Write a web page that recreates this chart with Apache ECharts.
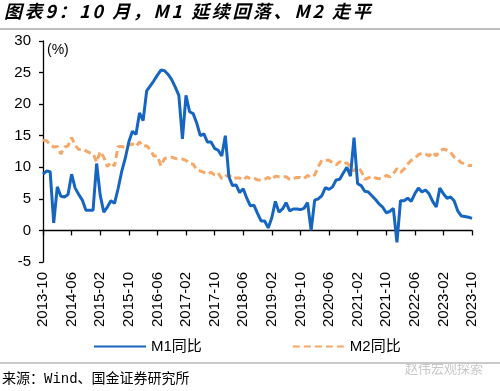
<!DOCTYPE html>
<html>
<head>
<meta charset="utf-8">
<script src="https://cdn.jsdelivr.net/npm/echarts@6/dist/echarts.min.js"></script>
<style>
html,body{margin:0;padding:0;background:#fff;}
#c{width:500px;height:391px;}
</style>
</head>
<body>
<div id="c"></div>
<script>
// Months 2013-10 .. 2023-10
var months = [];
for (var y = 2013; y <= 2023; y++) {
  for (var m = 1; m <= 12; m++) {
    if ((y === 2013 && m < 10) || (y === 2023 && m > 10)) continue;
    months.push(y + '-' + (m < 10 ? '0' + m : '' + m));
  }
}

var m1Values = [
  8.9, 9.4, 9.3,
  1.2, 6.9, 5.4, 5.3, 5.7, 8.9, 6.7, 5.7, 4.8, 3.2, 3.2, 3.2,
  10.6, 5.6, 2.9, 3.7, 4.7, 4.3, 6.6, 9.3, 11.4, 14.0, 15.7, 15.2,
  18.6, 17.4, 22.1, 22.9, 23.7, 24.6, 25.4, 25.3, 24.7, 23.9, 22.7, 21.4,
  14.5, 21.4, 18.8, 18.5, 17.0, 15.0, 15.3, 14.0, 14.0, 13.0, 12.7, 11.8,
  15.0, 8.5, 7.1, 7.2, 6.0, 6.6, 5.1, 3.9, 4.0, 2.7, 1.5, 1.5,
  0.4, 2.0, 4.6, 2.9, 3.4, 4.4, 3.1, 3.4, 3.4, 3.3, 3.5, 4.4,
  0.0, 4.8, 5.0, 5.5, 6.8, 6.5, 6.9, 8.0, 8.1, 9.1, 10.0, 8.6,
  14.7, 7.4, 7.1, 6.2, 6.1, 5.5, 4.9, 4.2, 3.7, 2.8, 3.0, 3.5,
  -1.9, 4.7, 4.7, 5.1, 4.6, 5.8, 6.7, 6.1, 6.4, 5.8, 4.6, 3.7,
  6.7, 5.8, 5.1, 5.3, 4.7, 3.1, 2.3, 2.2, 2.1, 1.9
];

var m2Values = [
  14.3, 14.2, 13.6,
  13.2, 13.3, 12.1, 13.2, 13.4, 14.7, 13.5, 12.8, 12.9, 12.6, 12.3, 12.2,
  10.8, 12.5, 11.6, 10.1, 10.8, 10.2, 13.3, 13.3, 13.1, 13.5, 13.7, 13.3,
  14.0, 13.3, 13.4, 12.8, 11.8, 11.8, 10.2, 11.4, 11.5, 11.6, 11.4, 11.3,
  11.3, 11.1, 10.6, 10.5, 9.6, 9.4, 9.2, 8.9, 9.2, 8.8, 9.1, 8.2,
  8.6, 8.8, 8.2, 8.3, 8.3, 8.0, 8.5, 8.2, 8.3, 8.0, 8.0, 8.1,
  8.4, 8.0, 8.6, 8.5, 8.5, 8.5, 8.1, 8.2, 8.4, 8.4, 8.2, 8.7,
  8.4, 8.8, 10.1, 11.1, 11.1, 11.1, 10.7, 10.4, 10.9, 10.5, 10.7, 10.1,
  9.4, 10.1, 9.4, 8.1, 8.3, 8.6, 8.3, 8.2, 8.3, 8.7, 8.5, 9.0,
  9.8, 9.2, 9.7, 10.5, 11.1, 11.4, 12.0, 12.2, 12.1, 11.8, 12.4, 11.8,
  12.6, 12.9, 12.7, 12.4, 11.6, 11.3, 10.7, 10.6, 10.3, 10.3
];

var seriesNames = ['M1同比', 'M2同比'];
var yTicks = { min: -5, max: 30, interval: 5 };
var titleText = '图表9：10 月，M1 延续回落、M2 走平';
var sourceText = '来源：Wind、国金证券研究所';
var unitText = '(%)';
var watermarkText = '赵伟宏观探索';

// title as rich text, one token per character (for letter spacing)
var titleRich = titleText.split('').map(function (ch) { return '{c|' + ch + '}'; }).join('');

var chart = echarts.init(document.getElementById('c'), null, { renderer: 'canvas' });

var fontBase = 'Arial, "Liberation Sans", "Noto Sans CJK SC", sans-serif';

chart.setOption({
  animation: false,
  backgroundColor: '#ffffff',
  grid: { left: 43, right: 28, top: 41, bottom: 129, containLabel: false, outerBoundsMode: 'none' },
  legend: {
    left: 93,
    top: 339,
    padding: 0,
    itemWidth: 52,
    itemHeight: 16,
    itemGap: 90,
    itemStyle: { opacity: 0 },
    textStyle: { fontSize: 15, color: '#000', fontFamily: fontBase },
    data: seriesNames
  },
  xAxis: [
    {
      type: 'category',
      data: months,
      boundaryGap: false,
      axisLine: { onZero: true, lineStyle: { color: '#000', width: 1.3 } },
      axisTick: { show: true, interval: 7, length: 5, lineStyle: { color: '#000', width: 1.3 } },
      axisLabel: { show: false },
      splitLine: { show: false }
    },
    {
      type: 'category',
      data: months,
      boundaryGap: false,
      position: 'bottom',
      axisLine: { show: false, onZero: false },
      axisTick: { show: false },
      axisLabel: {
        show: true, interval: 7, rotate: 90, margin: 10,
        fontSize: 15, color: '#000', fontFamily: fontBase
      },
      splitLine: { show: false }
    }
  ],
  yAxis: {
    type: 'value',
    min: yTicks.min,
    max: yTicks.max,
    interval: yTicks.interval,
    axisLine: { show: true, lineStyle: { color: '#000', width: 1.3 } },
    axisTick: { show: true, length: 4, lineStyle: { color: '#000', width: 1.3 } },
    axisLabel: { margin: 12, fontSize: 15, color: '#000', fontFamily: fontBase },
    splitLine: { show: false }
  },
  series: [
    {
      name: seriesNames[0],
      type: 'line',
      xAxisIndex: 0,
      data: m1Values,
      symbol: 'none',
      smooth: false,
      lineStyle: { color: '#1665C1', width: 3 },
      itemStyle: { color: '#1665C1' },
      z: 3
    },
    {
      name: seriesNames[1],
      type: 'line',
      xAxisIndex: 0,
      data: m2Values,
      symbol: 'none',
      smooth: false,
      lineStyle: { color: '#F5A868', width: 3, type: [7, 4] },
      itemStyle: { color: '#F5A868' },
      z: 2
    }
  ],
  graphic: [
    {
      type: 'text', left: 4, top: 2,
      style: {
        text: titleRich,
        rich: {
          c: {
            fontSize: 18,
            fontWeight: 'bold',
            fontStyle: 'italic',
            fontFamily: '"Noto Sans CJK SC", sans-serif',
            fill: '#000',
            padding: [0, 2.6, 0, 0]
          }
        }
      }
    },
    {
      type: 'line', shape: { x1: 0, y1: 29, x2: 500, y2: 29 },
      style: { stroke: '#a8a8a8', lineWidth: 1.5 }
    },
    {
      type: 'text', left: 47, top: 43,
      style: { text: unitText, font: '14px Arial, "Liberation Sans", sans-serif', fill: '#000' }
    },
    {
      type: 'line', shape: { x1: 0, y1: 363, x2: 500, y2: 363 },
      style: { stroke: '#b8b8b8', lineWidth: 1.5 }
    },
    {
      type: 'text', left: 2, top: 372,
      style: { text: sourceText, font: '14px "Liberation Mono", "Noto Sans CJK SC", monospace', fill: '#000' }
    },
    {
      type: 'text', left: 405, top: 362,
      style: { text: watermarkText, font: '13px "Noto Sans CJK SC", sans-serif', fill: '#c8c8c8' }
    }
  ]
});
</script>
</body>
</html>
